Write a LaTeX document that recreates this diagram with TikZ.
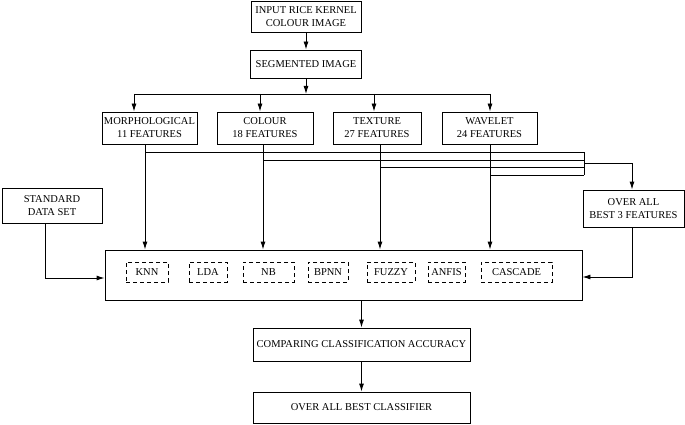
\documentclass[tikz,border=0pt]{standalone}
\usepackage{fontspec}
\setmainfont{Liberation Serif}
\usepackage{tikz}
\usetikzlibrary{positioning, arrows.meta, calc}

\begin{document}
\begin{tikzpicture}[
 x=1pt, y=-1pt,
 box/.style={draw, rectangle, line width=0.9pt, align=center, inner sep=0pt},
 algo/.style={draw, rectangle, dash pattern=on 4pt off 3pt, line width=0.8pt, inner sep=0pt, minimum height=20pt},
 arrow/.style={-{Latex[length=8pt, width=5pt]}, line width=0.9pt},
 simplearrow/.style={-, line width=0.9pt},
 font=\fontsize{10.5}{13}\selectfont
 ]
  \useasboundingbox (0,0) rectangle (685,425);

  % Input and segmentation
  \node[box, minimum width=110pt, minimum height=31pt] at (306,16.5) (input) {INPUT RICE KERNEL\\COLOUR IMAGE};
  \node[box, minimum width=111pt, minimum height=28pt] at (306,64) (seg) {SEGMENTED IMAGE};

  % Feature blocks
  \node[box, minimum width=95pt, minimum height=32pt] at (149.5,128) (morph) {MORPHOLOGICAL\\11 FEATURES};
  \node[box, minimum width=96pt, minimum height=32pt] at (265,128) (colour) {COLOUR\\18 FEATURES};
  \node[box, minimum width=88pt, minimum height=32pt] at (377,128) (texture) {TEXTURE\\27 FEATURES};
  \node[box, minimum width=95pt, minimum height=32pt] at (489.5,128) (wavelet) {WAVELET\\24 FEATURES};

  % Side inputs
  \node[box, minimum width=100pt, minimum height=35pt] at (52,205.5) (standard) {STANDARD\\DATA SET};
  \node[box, minimum width=101pt, minimum height=37pt] at (633.5,208.5) (best3) {OVER ALL\\BEST 3 FEATURES};

  % Classifier block
  \node[box, minimum width=477pt, minimum height=50pt] at (343.5,275) (classifiers) {};
  \node[algo, minimum width=42pt] at (147,272) (knn) {KNN};
  \node[algo, minimum width=38pt] at (208,272) (lda) {LDA};
  \node[algo, minimum width=51pt] at (268.5,272) (nb) {NB};
  \node[algo, minimum width=40pt] at (328,272) (bpnn) {BPNN};
  \node[algo, minimum width=48pt] at (391,272) (fuzzy) {FUZZY};
  \node[algo, minimum width=37pt] at (446.5,272) (anfis) {ANFIS};
  \node[algo, minimum width=71pt] at (516.5,272) (cascade) {CASCADE};

  % Comparison and result
  \node[box, minimum width=217pt, minimum height=33pt] at (361.5,344.5) (compare) {COMPARING CLASSIFICATION ACCURACY};
  \node[box, minimum width=217pt, minimum height=31pt] at (361.5,407.5) (bestclf) {OVER ALL BEST CLASSIFIER};

  % Branch points
  \coordinate (branch) at (306,94);
  \coordinate (b_morph) at (134,94);
  \coordinate (b_colour) at (260,94);
  \coordinate (b_texture) at (374,94);
  \coordinate (b_wavelet) at (490,94);

  % Bundle points
  \coordinate (d_morph) at (145,152);
  \coordinate (d_colour) at (263,160);
  \coordinate (d_texture) at (380,167);
  \coordinate (d_wavelet) at (490,175);
  \coordinate (joint) at (584,163.5);
  \coordinate (std_out) at (45,278);
  \coordinate (best3_out) at (632,277);

  % Top arrows
  \draw[arrow] (input) -- (seg);
  \draw[arrow] (seg) -- (branch);
  \draw[simplearrow] (b_morph) -- (b_wavelet);
  \draw[arrow] (b_morph) -- (b_morph |- morph.north);
  \draw[arrow] (b_colour) -- (b_colour |- colour.north);
  \draw[arrow] (b_texture) -- (b_texture |- texture.north);
  \draw[arrow] (b_wavelet) -- (b_wavelet |- wavelet.north);

  % Features down to classifiers
  \draw[arrow] (d_morph |- morph.south) -- (d_morph |- classifiers.north);
  \draw[arrow] (d_colour |- colour.south) -- (d_colour |- classifiers.north);
  \draw[arrow] (d_texture |- texture.south) -- (d_texture |- classifiers.north);
  \draw[arrow] (d_wavelet |- wavelet.south) -- (d_wavelet |- classifiers.north);

  % Features to best 3 selection
  \draw[simplearrow] (d_morph) -- (d_morph -| joint);
  \draw[simplearrow] (d_colour) -- (d_colour -| joint);
  \draw[simplearrow] (d_texture) -- (d_texture -| joint);
  \draw[simplearrow] (d_wavelet) -- (d_wavelet -| joint);
  \draw[simplearrow] (joint |- d_morph) -- (joint |- d_wavelet);
  \draw[arrow] (joint) -| (best3_out |- best3.north);

  % Side inputs into classifiers
  \draw[arrow] (std_out |- standard.south) |- (classifiers.west |- std_out);
  \draw[arrow] (best3_out |- best3.south) |- (classifiers.east |- best3_out);

  % Output chain
  \draw[arrow] (compare.north |- classifiers.south) -- (compare.north);
  \draw[arrow] (compare) -- (bestclf);

\end{tikzpicture}
\end{document}
